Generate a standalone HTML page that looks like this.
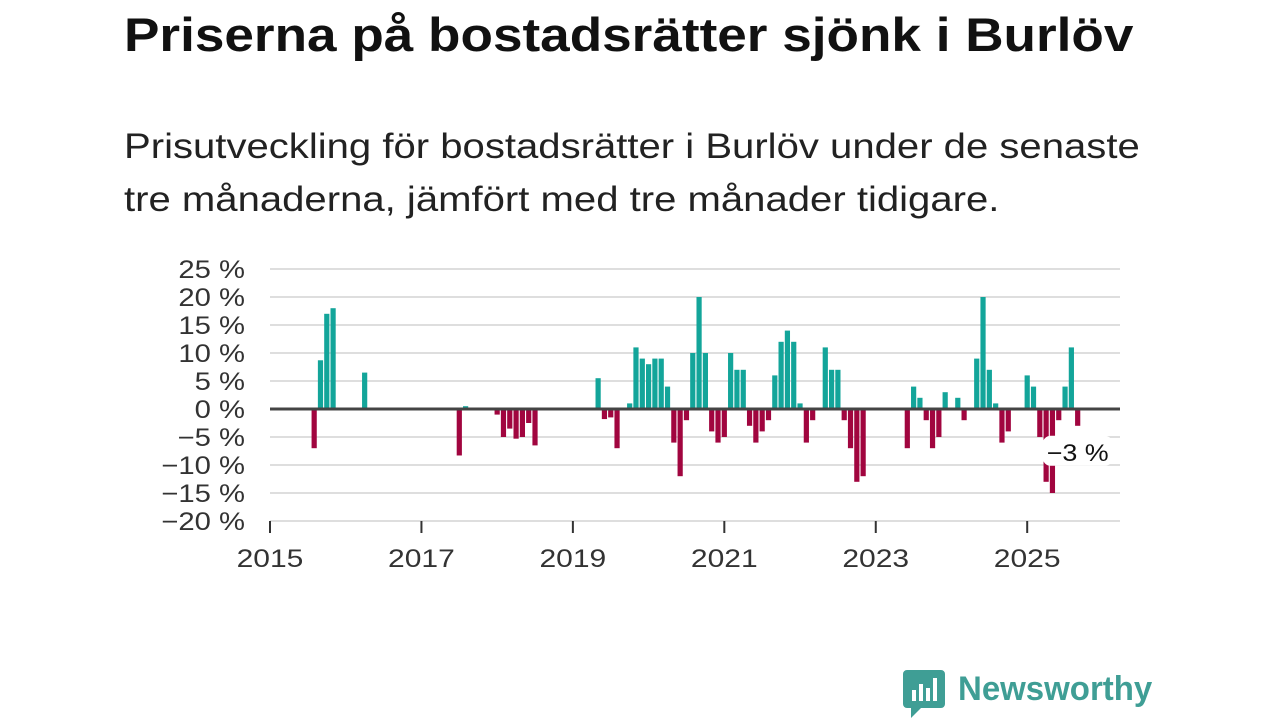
<!DOCTYPE html>
<html><head><meta charset="utf-8"><style>
html,body{margin:0;padding:0;background:#fff;width:1280px;height:720px;overflow:hidden;font-family:"Liberation Sans",sans-serif}
#title{position:absolute;left:124px;top:7px;font-size:47px;font-weight:bold;color:#111;white-space:nowrap;transform-origin:0 0;transform:scaleX(1.13)}
#sub{position:absolute;left:124px;top:120px;font-size:35px;line-height:53px;color:#222;white-space:nowrap;transform-origin:0 0;transform:scaleX(1.145)}
svg{position:absolute;left:0;top:0}
</style></head><body>
<div id="title">Priserna på bostadsrätter sjönk i Burlöv</div>
<div id="sub">Prisutveckling för bostadsrätter i Burlöv under de senaste<br>tre månaderna, jämfört med tre månader tidigare.</div>
<svg id="chart" width="1280" height="720"></svg>
<script>
const months=[7,8,9,10,15,30,31,36,37,38,39,40,41,42,52,53,54,55,57,58,59,60,61,62,63,64,65,66,67,68,69,70,71,72,73,74,75,76,77,78,79,80,81,82,83,84,85,86,88,89,90,91,92,93,94,101,102,103,104,105,106,107,109,110,112,113,114,115,116,117,120,121,122,123,124,125,126,127,128];
const values=[-7,8.7,17,18,6.5,-8.3,0.5,-1,-5,-3.5,-5.3,-5,-2.5,-6.5,5.5,-1.8,-1.5,-7,1,11,9,8,9,9,4,-6,-12,-2,10,20,10,-4,-6,-5,10,7,7,-3,-6,-4,-2,6,12,14,12,1,-6,-2,11,7,7,-2,-7,-13,-12,-7,4,2,-2,-7,-5,3,2,-2,9,20,7,1,-6,-4,6,4,-5,-13,-15,-2,4,11,-3];
const yTicks=[25,20,15,10,5,0,-5,-10,-15,-20];
const xYears=[2015,2017,2019,2021,2023,2025];
const svg=document.getElementById('chart');
const NS='http://www.w3.org/2000/svg';
const x0=270,pxMonth=6.31;
const xs=m=>x0+m*pxMonth;
const ys=v=>409-v*5.6;
function mk(t,a){const e=document.createElementNS(NS,t);for(const k in a)e.setAttribute(k,a[k]);svg.appendChild(e);return e;}
function stretch(t,f){const w=t.getComputedTextLength();t.setAttribute('textLength',w*f);t.setAttribute('lengthAdjust','spacingAndGlyphs');}
yTicks.forEach(v=>{
  if(v!==0){const g=mk('line',{x1:270,x2:1120,y1:ys(v),y2:ys(v),stroke:'#dedede','stroke-width':2});
  
  }
  const t=mk('text',{x:245,y:ys(v)+9,'text-anchor':'end','font-size':25,fill:'#333','font-family':'Liberation Sans, sans-serif'});
  t.textContent=(v<0?'\u2212'+(-v):v)+' %';
  
  
  stretch(t,1.17);
});
xYears.forEach(y=>{
  const x=xs((y-2015)*12);
  const l=mk('line',{x1:x,x2:x,y1:521,y2:533,stroke:'#333','stroke-width':2});
  
  
  const t=mk('text',{x:x,y:567,'text-anchor':'middle','font-size':25,fill:'#333','font-family':'Liberation Sans, sans-serif'});
  t.textContent=y;
  
  
  stretch(t,1.2);
});
months.forEach((m,i)=>{
  const v=values[i];
  const r=mk('rect',{x:xs(m)-2.6,width:5.2,y:v>=0?ys(v):ys(0),height:Math.abs(ys(v)-ys(0)),fill:v>=0?'#13a59a':'#a1053f'});
  
  
});
const z=mk('line',{x1:270,x2:1120,y1:ys(0),y2:ys(0),stroke:'#444','stroke-width':3});


const lastM=months[months.length-1],lastV=values[values.length-1];
const lb=mk('rect',{x:xs(lastM)-35,y:ys(lastV)+10,width:70,height:30,rx:8,fill:'#fff'});


const lt=mk('text',{x:xs(lastM)-31,y:ys(lastV)+35,'font-size':24,fill:'#111','font-family':'Liberation Sans, sans-serif'});
lt.textContent='\u2212'+(-lastV)+' %';


stretch(lt,1.12);
</script>
<div style="position:absolute;left:903px;top:670px;">
<svg width="42" height="50" style="position:absolute;left:0;top:0"><path d="M4 0h34a4 4 0 0 1 4 4v30a4 4 0 0 1-4 4H18l-10 10v-10H4a4 4 0 0 1-4-4V4a4 4 0 0 1 4-4z" fill="#3f9e95"/><rect x="9" y="20" width="4" height="11" fill="#fff"/><rect x="16" y="14" width="4" height="17" fill="#fff"/><rect x="23" y="18" width="4" height="13" fill="#fff"/><rect x="30" y="8" width="4" height="23" fill="#fff"/></svg>
<div style="position:absolute;left:55px;top:0;font-size:34px;font-weight:bold;color:#3f9e95;white-space:nowrap;transform-origin:0 0;transform:scaleX(0.97)">Newsworthy</div>
</div>
</body></html>
